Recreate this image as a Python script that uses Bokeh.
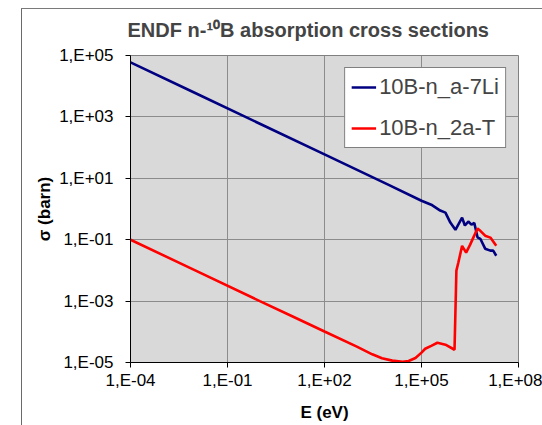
from bokeh.plotting import figure
from bokeh.models import (FixedTicker, CustomJSTickFormatter, Legend, LegendItem)
from bokeh.embed import file_html
from bokeh.resources import INLINE

# ---- data ----
li7_energy = [1e-4, 1e-2, 1.0, 1e2, 1e4, 1e5, 2.0e5, 3.8e5, 5.5e5, 7.8e5,
              1.12e6, 1.8e6, 2.2e6, 2.8e6, 3.5e6, 4.3e6, 5.4e6, 6.6e6,
              9.3e6, 1.35e7, 1.65e7, 2.05e7]
li7_sigma = [6.0e4, 6.0e3, 6.0e2, 60.0, 6.0, 1.86, 1.38, 0.89, 0.76, 0.36,
             0.21, 0.52, 0.29, 0.39, 0.31, 0.35, 0.12, 0.107,
             0.051, 0.044, 0.044, 0.030]

t_energy = [1e-4, 1e-2, 1.0, 10.0, 100.0, 1.0e3, 3.0e3, 6.0e3, 1.25e4, 2.6e4, 4.0e4,
            6.5e4, 1.0e5, 1.3e5, 2.0e5, 3.1e5, 5.5e5, 1.05e6, 1.2e6,
            1.38e6, 1.8e6, 2.4e6, 3.2e6, 4.0e6, 5.4e6, 6.6e6, 9.3e6,
            1.35e7, 2.05e7]
t_sigma = [0.1, 0.01, 1e-3, 3.2e-4, 1.02e-4, 3.3e-5, 1.85e-5, 1.38e-5, 1.15e-5, 1.05e-5, 1.12e-5,
           1.4e-5, 2.1e-5, 2.8e-5, 3.5e-5, 4.4e-5, 3.8e-5, 2.6e-5, 9.8e-3,
           1.8e-2, 6.3e-2, 3.8e-2, 6.9e-2, 0.117, 0.23, 0.195, 0.135,
           0.117, 0.063]

series_names = ["10B-n_a-7Li", "10B-n_2a-T"]
series_colors = ["#000080", "#FF0000"]

x_ticks = [1e-4, 1e-1, 1e2, 1e5, 1e8]
x_tick_labels = ["1,E-04", "1,E-01", "1,E+02", "1,E+05", "1,E+08"]
y_ticks = [1e-5, 1e-3, 1e-1, 1e1, 1e3, 1e5]
y_tick_labels = ["1,E-05", "1,E-03", "1,E-01", "1,E+01", "1,E+03", "1,E+05"]

title_text = "ENDF n-\u00b9\u2070B absorption cross sections"
x_label = "E (eV)"
y_label = "\u03c3 (barn)"

FONT = "Liberation Sans"

p = figure(width=542, height=425, x_axis_type="log", y_axis_type="log",
           x_range=(1e-4, 1e8), y_range=(1e-5, 1e5),
           output_backend="svg", toolbar_location=None,
           min_border_left=130, min_border_right=24,
           min_border_top=55, min_border_bottom=63)
# chart-area border (top and left edges) drawn as the element background
p.styles = {
    "background-image": "linear-gradient(#7a7a7a, #7a7a7a), linear-gradient(#6a6a6a, #6a6a6a)",
    "background-size": "521px 1px, 1px 417px",
    "background-position": "21px 8px, 21px 8px",
    "background-repeat": "no-repeat",
}

p.background_fill_color = "#D9D9D9"
p.border_fill_alpha = 0.0
p.outline_line_color = "#808080"
p.outline_line_width = 1

p.title.text = title_text
p.title.align = "left"
p.title.offset = -3
p.title.text_font = FONT
p.title.text_font_size = "20px"
p.title.text_font_style = "bold"
p.title.standoff = 29

fmt_code = """
let best = 0, bd = Infinity;
for (let i = 0; i < tvals.length; i++) {
  const d = Math.abs(Math.log10(tick) - Math.log10(tvals[i]));
  if (d < bd) { bd = d; best = i; }
}
return tlabels[best];
"""

p.xaxis.ticker = FixedTicker(ticks=x_ticks, minor_ticks=[])
p.yaxis.ticker = FixedTicker(ticks=y_ticks, minor_ticks=[])
p.xaxis.formatter = CustomJSTickFormatter(args=dict(tvals=x_ticks, tlabels=x_tick_labels), code=fmt_code)
p.yaxis.formatter = CustomJSTickFormatter(args=dict(tvals=y_ticks, tlabels=y_tick_labels), code=fmt_code)

for ax in (p.xaxis[0], p.yaxis[0]):
    ax.axis_line_color = "black"
    ax.axis_line_width = 1
    ax.major_tick_line_color = "black"
    ax.major_tick_out = 5
    ax.major_tick_in = 0
    ax.minor_tick_out = 0
    ax.minor_tick_in = 0
    ax.major_label_text_font = FONT
    ax.major_label_text_font_size = "17px"
    ax.major_label_text_color = "black"
    ax.axis_label_text_font = FONT
    ax.axis_label_text_font_size = "17px"
    ax.axis_label_text_font_style = "bold"
    ax.axis_label_text_color = "black"

p.xaxis.axis_label = x_label
p.yaxis.axis_label = y_label
p.xaxis.major_label_standoff = 3
p.yaxis.major_label_standoff = 12
p.xaxis.axis_label_standoff = 10
p.yaxis.axis_label_standoff = 2

p.xgrid.ticker = FixedTicker(ticks=x_ticks)
p.ygrid.ticker = FixedTicker(ticks=y_ticks)
p.grid.grid_line_color = "#8C8C8C"
p.grid.grid_line_width = 1

r1 = p.line(li7_energy, li7_sigma, line_color=series_colors[0], line_width=2.6)
r2 = p.line(t_energy, t_sigma, line_color=series_colors[1], line_width=2.6)

legend = Legend(items=[LegendItem(label=series_names[0], renderers=[r1]),
                       LegendItem(label=series_names[1], renderers=[r2])],
                location="top_right", margin=12, padding=6, spacing=15,
                glyph_width=25, glyph_height=24, label_height=24,
                label_standoff=3,
                label_text_font=FONT, label_text_font_size="22px",
                border_line_color="black", border_line_width=1,
                background_fill_color="white", background_fill_alpha=1.0)
p.add_layout(legend)

open("out.html", "w").write(file_html(p, INLINE))
